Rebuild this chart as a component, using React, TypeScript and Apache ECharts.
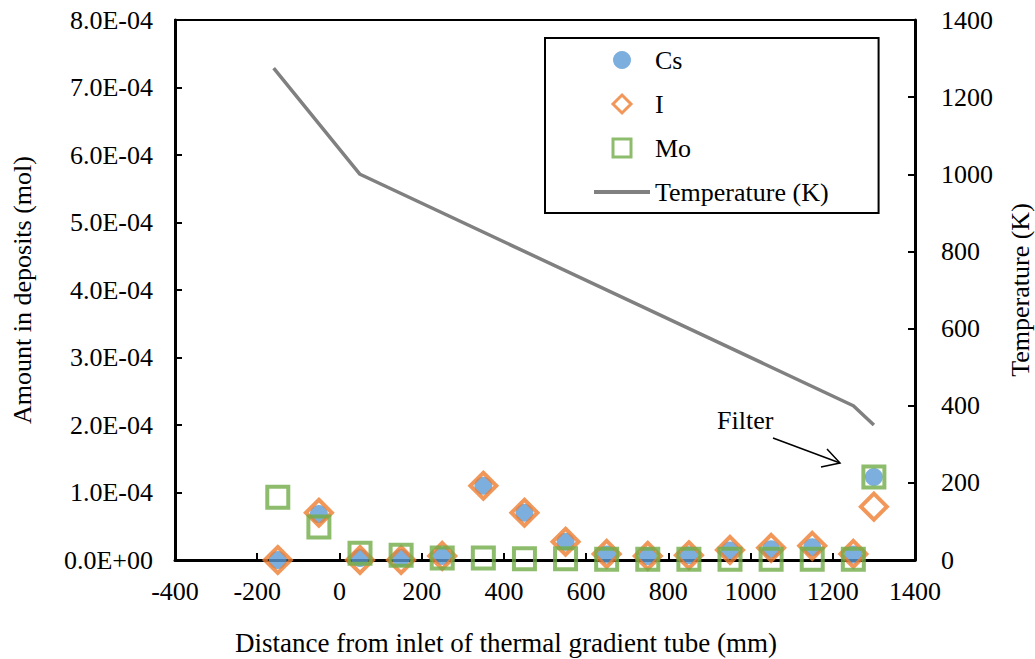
import React, { useEffect, useRef } from "react";
import * as echarts from "echarts";

const distances = [-150, -50, 50, 150, 250, 350, 450, 550, 650, 750, 850, 950, 1050, 1150, 1250, 1300];
const csValues = [0.0, 0.68e-4, 0.03e-4, 0.03e-4, 0.06e-4, 1.1e-4, 0.7e-4, 0.27e-4, 0.08e-4, 0.06e-4, 0.07e-4, 0.14e-4, 0.16e-4, 0.19e-4, 0.08e-4, 1.23e-4];
const iValues = [0.0, 0.7e-4, 0.0, 0.0, 0.06e-4, 1.1e-4, 0.7e-4, 0.27e-4, 0.09e-4, 0.06e-4, 0.07e-4, 0.15e-4, 0.18e-4, 0.21e-4, 0.09e-4, 0.79e-4];
const moValues = [0.93e-4, 0.49e-4, 0.1e-4, 0.07e-4, 0.03e-4, 0.03e-4, 0.02e-4, 0.02e-4, 0.01e-4, 0.01e-4, 0.01e-4, 0.01e-4, 0.01e-4, 0.01e-4, 0.01e-4, 1.23e-4];
const tempDistances = [-160, 50, 1250, 1300];
const tempValues = [1275, 1000, 400, 350];

const FONT = "Liberation Serif";

function sci(v: number): string {
  if (v === 0) return "0.0E+00";
  const s = v.toExponential(1).toUpperCase();
  const [m, e] = s.split("E");
  const n = parseInt(e, 10);
  const sign = n < 0 ? "-" : "+";
  const abs = Math.abs(n);
  return `${m}E${sign}${abs < 10 ? "0" + abs : abs}`;
}

export default function App() {
  const ref = useRef<HTMLDivElement>(null);
  useEffect(() => {
    if (!ref.current) return;
    const chart = echarts.init(ref.current, null, { renderer: "svg" });
    const pts = (vals: number[]) => distances.map((d, k) => [d, vals[k]]);
    const txt = { fontFamily: FONT, fontSize: 26, color: "#000" };
    chart.setOption({
      animation: false,
      backgroundColor: "#fff",
      textStyle: { fontFamily: FONT, color: "#000" },
      grid: {
        left: 175,
        top: 20,
        right: 120,
        bottom: 99,
        show: true,
        borderColor: "#000",
        borderWidth: 2,
        backgroundColor: "transparent",
        containLabel: false,
        outerBoundsMode: "none",
      },
      legend: {
        orient: "vertical",
        left: 545,
        top: 38,
        padding: [9, 50, 8, 49],
        itemGap: 18,
        itemWidth: 56,
        itemHeight: 18,
        symbolKeepAspect: true,
        borderColor: "#000",
        borderWidth: 2,
        backgroundColor: "#fff",
        textStyle: txt,
        data: [
          { name: "Cs", icon: "circle" },
          { name: "I", icon: "path://M10,0 L20,10 L10,20 L0,10 Z", itemStyle: { borderWidth: 3 } },
          { name: "Mo", icon: "path://M0,0 L20,0 L20,20 L0,20 Z", itemStyle: { borderWidth: 3 } },
          {
            name: "Temperature (K)",
            icon: "path://M0,0 L56,0 L56,4 L0,4 Z",
            itemStyle: { color: "#808080", borderWidth: 0 },
          },
        ],
      },
      xAxis: {
        type: "value",
        min: -400,
        max: 1400,
        interval: 200,
        name: "Distance from inlet of thermal gradient tube (mm)",
        nameLocation: "middle",
        nameGap: 69,
        nameTextStyle: { ...txt, fontSize: 27, padding: [0, 78, 0, 0] },
        axisLine: { show: true, onZero: false, lineStyle: { color: "#000", width: 3 } },
        axisTick: { show: true, inside: true, length: 7, lineStyle: { color: "#000", width: 2 } },
        axisLabel: { ...txt, margin: 18, formatter: (v: number) => String(v) },
        splitLine: { show: false },
      },
      yAxis: [
        {
          type: "value",
          min: 0,
          max: 8e-4,
          interval: 1e-4,
          name: "Amount in deposits (mol)",
          nameLocation: "middle",
          nameRotate: 90,
          nameGap: 140,
          nameTextStyle: txt,
          axisLine: { show: true, onZero: false, lineStyle: { color: "#000", width: 3 } },
          axisTick: { show: true, inside: true, length: 7, lineStyle: { color: "#000", width: 2 } },
          axisLabel: { ...txt, margin: 22, formatter: (v: number) => sci(v) },
          splitLine: { show: false },
        },
        {
          type: "value",
          min: 0,
          max: 1400,
          interval: 200,
          position: "right",
          name: "Temperature (K)",
          nameLocation: "middle",
          nameRotate: 90,
          nameGap: 92,
          nameTextStyle: txt,
          axisLine: { show: true, onZero: false, lineStyle: { color: "#000", width: 3 } },
          axisTick: { show: true, inside: true, length: 7, lineStyle: { color: "#000", width: 2 } },
          axisLabel: { ...txt, margin: 26, formatter: (v: number) => String(v) },
          splitLine: { show: false },
        },
      ],
      series: [
        {
          name: "Cs",
          type: "scatter",
          symbol: "circle",
          symbolSize: 18,
          itemStyle: { color: "#5B9BD5" },
          data: pts(csValues),
          clip: false,
        },
        {
          name: "I",
          type: "scatter",
          symbol: "diamond",
          symbolSize: 26,
          itemStyle: { color: "rgba(0,0,0,0)", borderColor: "#ED7D31", borderWidth: 4 },
          data: pts(iValues),
          clip: false,
        },
        {
          name: "Mo",
          type: "scatter",
          symbol: "rect",
          symbolSize: 21,
          itemStyle: { color: "rgba(0,0,0,0)", borderColor: "#70AD47", borderWidth: 4 },
          data: pts(moValues),
          clip: false,
        },
        {
          name: "Temperature (K)",
          type: "line",
          yAxisIndex: 1,
          symbol: "none",
          lineStyle: { color: "#808080", width: 3.5 },
          itemStyle: { color: "#808080" },
          data: tempDistances.map((d, k) => [d, tempValues[k]]),
        },
      ],
      graphic: [
        {
          type: "text",
          left: 717,
          top: 407,
          style: { text: "Filter", fontFamily: FONT, fontSize: 26, fill: "#000" },
        },
        {
          type: "line",
          shape: { x1: 773, y1: 438, x2: 840, y2: 463 },
          style: { stroke: "#000", lineWidth: 1.5 },
        },
        {
          type: "polyline",
          shape: { points: [[827, 449], [840, 463], [821, 467]] },
          style: { stroke: "#000", lineWidth: 1.5, fill: "none" },
        },
      ],
    });
    return () => chart.dispose();
  }, []);
  return <div ref={ref} style={{ position: "fixed", left: 0, top: 0, width: 1035, height: 659 }} />;
}
